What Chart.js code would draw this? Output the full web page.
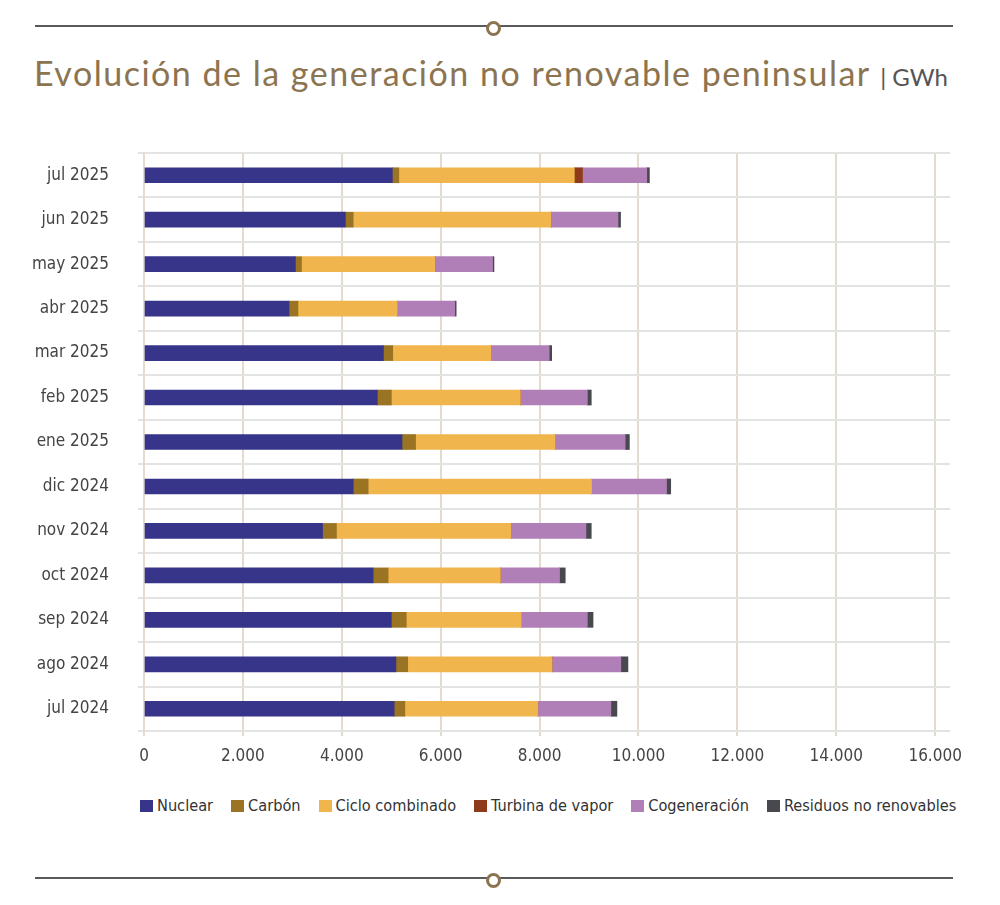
<!DOCTYPE html>
<html lang="es">
<head>
<meta charset="utf-8">
<title>Evolución de la generación no renovable peninsular</title>
<script src="https://cdn.jsdelivr.net/npm/chart.js@4.4.1/dist/chart.umd.min.js"></script>
<style>
  html, body { margin: 0; padding: 0; background: #fff; }
  body { width: 1000px; height: 905px; position: relative; overflow: hidden; }
  .rule { position: absolute; left: 35px; width: 918px; height: 2px; background: #5a5a5a; }
  .rule.top { top: 25px; }
  .rule.bottom { top: 877px; }
  .knot {
    position: absolute; left: 486px; width: 9px; height: 9px; margin-top: -5px;
    border: 3px solid #8c7450; border-radius: 50%; background: #fff;
  }
  .title {
    position: absolute; left: 34px; top: 52px; white-space: nowrap;
    font-family: "Lato", "Noto Sans", sans-serif; font-size: 34px; letter-spacing: 1.5px; color: #8c7450;
  }
  .title .unit { font-size: 24px; letter-spacing: 0; color: #555; }
  .chart-wrap { position: absolute; left: 0; top: 140px; width: 1000px; height: 640px; }
  .legend {
    position: absolute; left: 140px; top: 796px; display: flex; white-space: nowrap;
    font-family: "DejaVu Sans Condensed", sans-serif; font-size: 16.2px; color: #333;
  }
  .legend-item { display: flex; align-items: center; margin-right: 18px; }
  .legend-item:last-child { margin-right: 0; }
  .legend-box { width: 13px; height: 12px; margin-right: 4px; }
</style>
</head>
<body>
<div class="rule top"></div>
<div class="knot" style="top:26px"></div>
<div class="title">Evolución de la generación no renovable peninsular <span class="unit">| GWh</span></div>
<div class="chart-wrap"><canvas id="genChart"></canvas></div>
<div class="legend" id="genLegend"></div>
<div class="rule bottom"></div>
<div class="knot" style="top:878px"></div>

<script>
  const months = ["jul 2025", "jun 2025", "may 2025", "abr 2025", "mar 2025", "feb 2025", "ene 2025",
    "dic 2024", "nov 2024", "oct 2024", "sep 2024", "ago 2024", "jul 2024"];

  // GWh
  const nuclear = [5023, 4072, 3063, 2933, 4843, 4720, 5218, 4231, 3611, 4634, 5002, 5095, 5059];
  const carbon = [130, 159, 122, 180, 187, 282, 274, 302, 281, 303, 302, 238, 216];
  const cicloCombinado = [3550, 4000, 2696, 2011, 1990, 2609, 2825, 4519, 3531, 2270, 2328, 2919, 2689];
  const turbinaVapor = [165, 0, 0, 0, 0, 0, 0, 0, 0, 0, 0, 0, 0];
  const cogeneracion = [1300, 1355, 1167, 1160, 1174, 1355, 1413, 1514, 1514, 1196, 1334, 1391, 1477];
  const residuos = [53, 51, 29, 29, 51, 79, 86, 86, 108, 116, 115, 144, 123];

  const xTicks = [0, 2000, 4000, 6000, 8000, 10000, 12000, 14000, 16000];

  (function () {
    const FONT = "'DejaVu Sans Condensed', sans-serif";

    function formatNumber(value) {
      return Number(value).toLocaleString("es-ES", { useGrouping: "always" }).replace(/\s/g, ".");
    }

    function series(label, data, color) {
      return {
        label: label,
        data: data,
        backgroundColor: color,
        borderWidth: 0,
        barThickness: 15,
        stack: "gen",
      };
    }

    function renderLegend(datasets) {
      const legend = document.getElementById("genLegend");
      legend.innerHTML = "";
      datasets.forEach((ds) => {
        const item = document.createElement("div");
        item.className = "legend-item";
        item.innerHTML = `<span class="legend-box" style="background:${ds.backgroundColor}"></span><span>${ds.label}</span>`;
        legend.appendChild(item);
      });
    }

    const datasets = [
      series("Nuclear", nuclear, "#36358a"),
      series("Carbón", carbon, "#9a7422"),
      series("Ciclo combinado", cicloCombinado, "#f0b54d"),
      series("Turbina de vapor", turbinaVapor, "#8e3b1c"),
      series("Cogeneración", cogeneracion, "#b17fb8"),
      series("Residuos no renovables", residuos, "#48494e"),
    ];

    const ctx = document.getElementById("genChart");
    new Chart(ctx, {
      type: "bar",
      data: { labels: months, datasets: datasets },
      options: {
        indexAxis: "y",
        responsive: true,
        maintainAspectRatio: false,
        animation: false,
        layout: { padding: { top: 13, right: 50, left: 0, bottom: 9 } },
        scales: {
          x: {
            stacked: true,
            min: 0,
            max: 16300,
            afterBuildTicks: function (scale) {
              scale.ticks = xTicks.map((v) => ({ value: v }));
            },
            afterFit: function (scale) {
              scale.height = 40;
            },
            grid: { color: "#e4dbcf", lineWidth: 2, tickLength: 5, tickColor: "#e4dbcf" },
            border: { display: false },
            ticks: {
              color: "#444",
              font: { family: FONT, size: 17 },
              padding: 10,
              callback: (value) => formatNumber(value),
            },
          },
          y: {
            stacked: true,
            afterFit: function (scale) {
              // the big label padding should not push the plot down
              scale.width = 144;
              scale.paddingTop = 0;
              scale.paddingBottom = 0;
            },
            grid: { color: "#e3e3e3", lineWidth: 2, tickLength: 6, tickColor: "#e3e3e3", offset: true },
            border: { display: true, color: "#e4dbcf", width: 2 },
            ticks: {
              color: "#444",
              font: { family: FONT, size: 17 },
              padding: 29,
            },
          },
        },
        plugins: {
          legend: { display: false },
          tooltip: { enabled: false },
        },
      },
    });

    renderLegend(datasets);
  })();
</script>
</body>
</html>
